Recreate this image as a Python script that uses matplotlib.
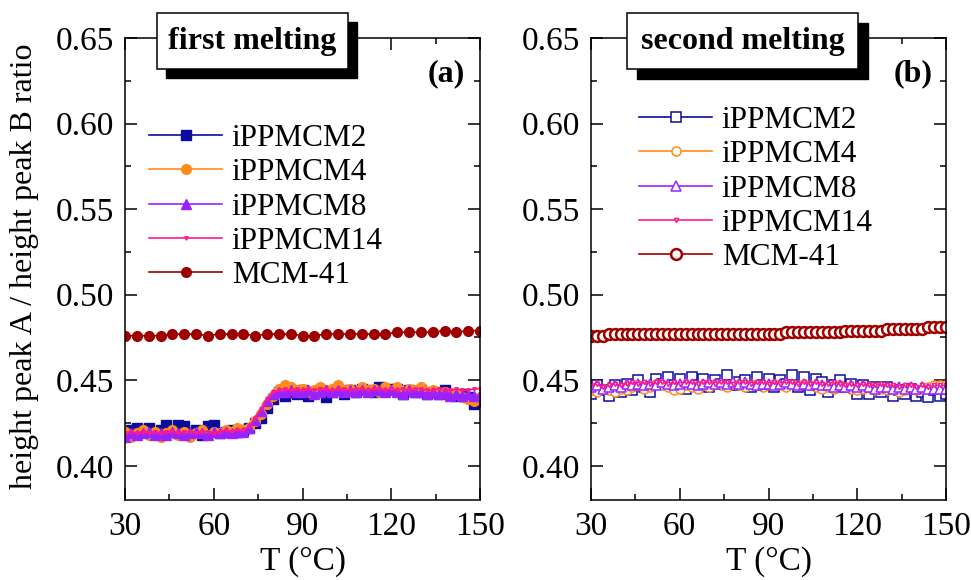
import numpy as np
import matplotlib
matplotlib.use("Agg")
import matplotlib.pyplot as plt
from matplotlib.patches import Rectangle
from matplotlib.ticker import MultipleLocator

plt.rcParams['font.family'] = ['Liberation Serif', 'DejaVu Serif']
plt.rcParams['mathtext.fontset'] = 'stix'

# ---------------- data ----------------
T = np.arange(30, 151, 2)          # 61 temperatures, 2 degC step
T_mcm_a = np.arange(30, 151, 4)    # MCM-41 in first melting, 4 degC step

series_names = ["iPPMCM2", "iPPMCM4", "iPPMCM8", "iPPMCM14", "MCM-41"]

# first melting (a)
a_mcm2 = [0.418, 0.421, 0.422, 0.420, 0.422, 0.419, 0.421, 0.424, 0.420, 0.424,
          0.423, 0.419, 0.421, 0.418, 0.423, 0.424, 0.419, 0.420, 0.421, 0.420,
          0.421, 0.422, 0.425, 0.428, 0.434, 0.439, 0.443, 0.441, 0.443, 0.442,
          0.444, 0.441, 0.443, 0.444, 0.440, 0.443, 0.445, 0.442, 0.444, 0.443,
          0.445, 0.444, 0.443, 0.446, 0.444, 0.445, 0.445, 0.442, 0.444, 0.443,
          0.444, 0.442, 0.443, 0.442, 0.444, 0.442, 0.441, 0.442, 0.440, 0.436,
          0.438]
a_mcm4 = [0.420, 0.417, 0.419, 0.421, 0.418, 0.420, 0.417, 0.419, 0.421, 0.418,
          0.420, 0.417, 0.419, 0.421, 0.418, 0.420, 0.419, 0.421, 0.420, 0.422,
          0.421, 0.422, 0.426, 0.430, 0.436, 0.441, 0.445, 0.447, 0.446, 0.444,
          0.445, 0.443, 0.444, 0.446, 0.444, 0.445, 0.447, 0.444, 0.445, 0.443,
          0.446, 0.444, 0.445, 0.443, 0.446, 0.444, 0.446, 0.443, 0.445, 0.444,
          0.446, 0.443, 0.444, 0.442, 0.443, 0.441, 0.442, 0.440, 0.439, 0.438,
          0.440]
a_mcm8 = [0.417, 0.419, 0.418, 0.419, 0.420, 0.418, 0.419, 0.418, 0.420, 0.419,
          0.418, 0.419, 0.420, 0.419, 0.418, 0.420, 0.419, 0.420, 0.419, 0.420,
          0.420, 0.422, 0.427, 0.432, 0.438, 0.442, 0.443, 0.443, 0.444, 0.443,
          0.443, 0.444, 0.442, 0.443, 0.444, 0.443, 0.444, 0.443, 0.444, 0.443,
          0.444, 0.443, 0.444, 0.444, 0.443, 0.444, 0.443, 0.442, 0.444, 0.443,
          0.443, 0.442, 0.443, 0.442, 0.443, 0.441, 0.442, 0.441, 0.442, 0.441,
          0.441]
a_mcm14 = [0.419, 0.420, 0.419, 0.420, 0.419, 0.420, 0.419, 0.420, 0.420, 0.419,
           0.420, 0.420, 0.419, 0.420, 0.420, 0.419, 0.420, 0.421, 0.420, 0.421,
           0.421, 0.423, 0.428, 0.433, 0.439, 0.443, 0.444, 0.445, 0.444, 0.445,
           0.444, 0.445, 0.444, 0.445, 0.445, 0.444, 0.445, 0.445, 0.444, 0.445,
           0.445, 0.444, 0.445, 0.445, 0.444, 0.445, 0.444, 0.445, 0.444, 0.445,
           0.445, 0.444, 0.444, 0.445, 0.444, 0.444, 0.445, 0.444, 0.444, 0.445,
           0.445]
a_mcm41 = [0.476, 0.476, 0.476, 0.476, 0.477, 0.477, 0.477, 0.476, 0.477, 0.477,
           0.477, 0.476, 0.477, 0.477, 0.477, 0.476, 0.476, 0.477, 0.477, 0.477,
           0.477, 0.477, 0.477, 0.478, 0.478, 0.478, 0.478, 0.479, 0.478, 0.479,
           0.479]

# second melting (b)
b_mcm2 = [0.442, 0.447, 0.444, 0.441, 0.447, 0.443, 0.448, 0.444, 0.450, 0.446,
          0.443, 0.451, 0.448, 0.452, 0.447, 0.451, 0.445, 0.452, 0.447, 0.451,
          0.446, 0.450, 0.448, 0.453, 0.447, 0.449, 0.450, 0.446, 0.452, 0.447,
          0.451, 0.446, 0.450, 0.448, 0.453, 0.446, 0.452, 0.444, 0.451, 0.449,
          0.443, 0.447, 0.450, 0.446, 0.448, 0.442, 0.447, 0.442, 0.446, 0.443,
          0.446, 0.441, 0.444, 0.442, 0.445, 0.441, 0.443, 0.440, 0.444, 0.441,
          0.442]
b_mcm4 = [0.444, 0.443, 0.445, 0.444, 0.443, 0.445, 0.444, 0.446, 0.447, 0.445,
          0.446, 0.448, 0.447, 0.446, 0.444, 0.445, 0.447, 0.446, 0.445, 0.447,
          0.446, 0.448, 0.447, 0.446, 0.448, 0.447, 0.446, 0.448, 0.447, 0.446,
          0.447, 0.448, 0.447, 0.446, 0.448, 0.447, 0.448, 0.447, 0.446, 0.445,
          0.446, 0.445, 0.447, 0.446, 0.445, 0.444, 0.445, 0.446, 0.444, 0.445,
          0.444, 0.445, 0.443, 0.444, 0.445, 0.444, 0.445, 0.446, 0.447, 0.447,
          0.447]
b_mcm8 = [0.446, 0.447, 0.445, 0.446, 0.447, 0.446, 0.448, 0.447, 0.448, 0.447,
          0.448, 0.447, 0.449, 0.448, 0.447, 0.448, 0.449, 0.448, 0.447, 0.448,
          0.449, 0.448, 0.449, 0.448, 0.449, 0.448, 0.449, 0.448, 0.447, 0.448,
          0.448, 0.447, 0.448, 0.449, 0.448, 0.447, 0.448, 0.447, 0.448, 0.447,
          0.447, 0.446, 0.447, 0.446, 0.447, 0.446, 0.447, 0.446, 0.445, 0.446,
          0.446, 0.445, 0.446, 0.445, 0.446, 0.445, 0.446, 0.445, 0.445, 0.445,
          0.445]
b_mcm14 = [0.447, 0.448, 0.446, 0.447, 0.448, 0.447, 0.448, 0.449, 0.448, 0.449,
           0.448, 0.449, 0.449, 0.448, 0.449, 0.448, 0.449, 0.449, 0.448, 0.449,
           0.449, 0.448, 0.449, 0.449, 0.448, 0.449, 0.449, 0.448, 0.449, 0.449,
           0.448, 0.449, 0.448, 0.449, 0.449, 0.448, 0.449, 0.448, 0.449, 0.448,
           0.448, 0.449, 0.448, 0.447, 0.448, 0.447, 0.448, 0.447, 0.447, 0.448,
           0.447, 0.447, 0.446, 0.447, 0.447, 0.446, 0.447, 0.446, 0.447, 0.447,
           0.447]
b_mcm41 = [0.476, 0.476, 0.476, 0.477, 0.477, 0.477, 0.477, 0.477, 0.477, 0.477,
           0.477, 0.477, 0.477, 0.477, 0.477, 0.477, 0.477, 0.477, 0.477, 0.477,
           0.477, 0.477, 0.477, 0.477, 0.477, 0.477, 0.477, 0.477, 0.477, 0.477,
           0.477, 0.477, 0.477, 0.478, 0.478, 0.478, 0.478, 0.478, 0.478, 0.478,
           0.478, 0.478, 0.478, 0.479, 0.479, 0.479, 0.479, 0.479, 0.479, 0.479,
           0.480, 0.480, 0.480, 0.480, 0.480, 0.480, 0.480, 0.481, 0.481, 0.481,
           0.481]

xticks = [30, 60, 90, 120, 150]
yticks = [0.40, 0.45, 0.50, 0.55, 0.60, 0.65]
ytick_labels = ["0.40", "0.45", "0.50", "0.55", "0.60", "0.65"]

colors = ["#0c0c9c", "#ff8c1a", "#9a22ff", "#ff1a8c", "#9e0000"]
markers = ["s", "o", "^", "v", "o"]
msizes = [6.5, 7.0, 6.5, 2.5, 7.0]

# ---------------- figure ----------------
W, H = 971, 580
fig = plt.figure(figsize=(W / 100, H / 100), dpi=100)

def ax_rect(l, r, t, b):
    return [l / W, 1 - b / H, (r - l) / W, (b - t) / H]

axA = fig.add_axes(ax_rect(125, 480, 38, 500))
axB = fig.add_axes(ax_rect(591, 946, 38, 500))

data_a = [(T, a_mcm2), (T, a_mcm4), (T, a_mcm8), (T, a_mcm14), (T_mcm_a, a_mcm41)]
data_b = [(T, b_mcm2), (T, b_mcm4), (T, b_mcm8), (T, b_mcm14), (T, b_mcm41)]

order = [4, 0, 1, 2, 3]
handles_a = {}
for i in order:
    x, y = data_a[i]
    h, = axA.plot(x, y, color=colors[i], marker=markers[i], ms=msizes[i],
                  mfc=colors[i], mec=colors[i], lw=1.2, label=series_names[i])
    handles_a[i] = h
b_ms = [7.0, 6.5, 6.5, 3.0, 7.8]
handles_b = {}
for i in order:
    x, y = data_b[i]
    mew = 1.8 if i == 4 else 1.1
    h, = axB.plot(x, y, color=colors[i], marker=markers[i], ms=b_ms[i],
                  mfc="white", mec=colors[i], mew=mew, lw=1.2, label=series_names[i])
    handles_b[i] = h

for ax in (axA, axB):
    ax.set_xlim(30, 150)
    ax.set_ylim(0.38, 0.65)
    ax.set_xticks(xticks)
    ax.set_yticks(yticks)
    ax.set_yticklabels(ytick_labels)
    ax.xaxis.set_minor_locator(MultipleLocator(15))
    ax.yaxis.set_minor_locator(MultipleLocator(0.025))
    ax.tick_params(which="both", direction="in", top=True, right=True,
                   width=1.1, labelsize=24, colors="black")
    ax.tick_params(which="major", length=8.5, pad=8)
    ax.tick_params(which="minor", length=4.5)
    for s in ax.spines.values():
        s.set_linewidth(1.1)
    ax.set_facecolor("white")

leg_kw = dict(loc="upper left", frameon=False, fontsize=22.5, handlelength=2.35,
              handletextpad=0.3, labelspacing=0.17, borderpad=0, borderaxespad=0)
legA = axA.legend([handles_a[i] for i in range(5)], series_names,
                  bbox_to_anchor=((149 - 125) / 355, (500 - 124) / 462), **leg_kw)
legB = axB.legend([handles_b[i] for i in range(5)], series_names,
                  bbox_to_anchor=((639 - 591) / 355, (500 - 106) / 462), **leg_kw)

axA.text((465 - 125) / 355, (500 - 74) / 462, "(a)", transform=axA.transAxes,
         ha="right", va="center", fontsize=23, fontweight="bold")
axB.text((933 - 591) / 355, (500 - 74) / 462, "(b)", transform=axB.transAxes,
         ha="right", va="center", fontsize=23, fontweight="bold")

# title boxes with drop shadow
def title_box(x0, x1, y0, y1, off, text):
    shadow = Rectangle(((x0 + off) / W, 1 - (y1 + off) / H), (x1 - x0) / W, (y1 - y0) / H,
                       transform=fig.transFigure, facecolor="black", edgecolor="black",
                       zorder=5)
    box = Rectangle((x0 / W, 1 - y1 / H), (x1 - x0) / W, (y1 - y0) / H,
                    transform=fig.transFigure, facecolor="white", edgecolor="black",
                    lw=1.1, zorder=6)
    fig.patches.extend([shadow, box])
    fig.text((x0 + x1) / 2 / W, 1 - (y0 + y1) / 2 / H, text, ha="center", va="center",
             fontsize=23, fontweight="bold", zorder=7)

title_box(157, 348, 13, 69, 9, "first melting")
title_box(627, 858, 13, 69, 10, "second melting")

fig.text(25 / W, 1 - 266 / H, "height peak A / height peak B ratio", rotation=90,
         ha="center", va="center", fontsize=23)
fig.text((125 + 480) / 2 / W, 1 - 562 / H, "T (°C)", ha="center", va="center", fontsize=24)
fig.text((591 + 946) / 2 / W, 1 - 562 / H, "T (°C)", ha="center", va="center", fontsize=24)

fig.savefig("out.png", dpi=100, facecolor="white")
